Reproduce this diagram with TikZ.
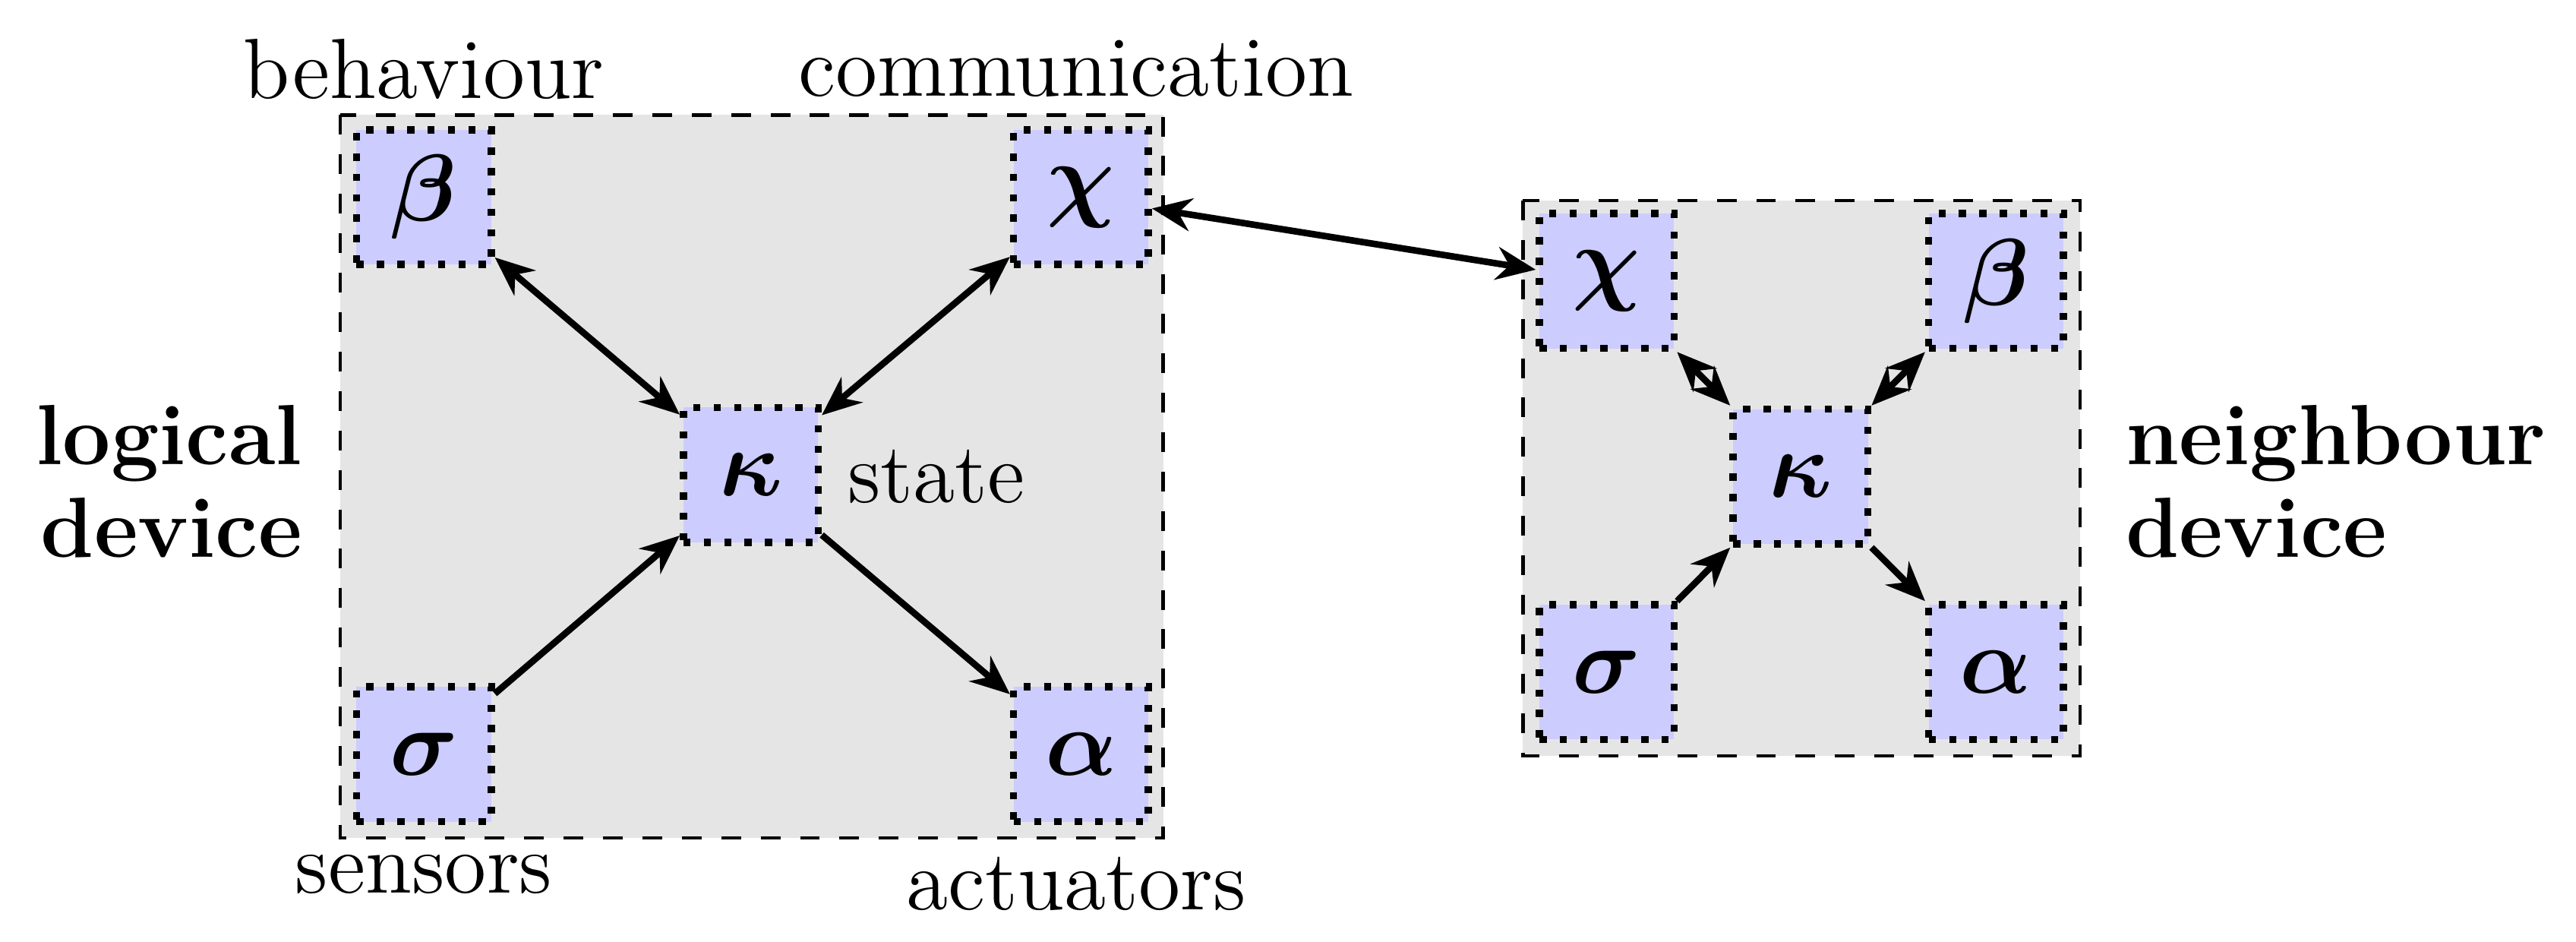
\documentclass[tikz,border=0pt]{standalone}
\usepackage{amsmath,bm}
\usetikzlibrary{arrows.meta}
\begin{document}
\begin{tikzpicture}[x=0.25pt,y=-0.25pt,
  dev/.style={draw,dashed,fill=gray!20,line width=0.5pt},
  comp/.style={draw,dotted,line width=1.1pt,fill=blue!20,minimum size=20.5pt,inner sep=0pt,font=\Large},
  lab/.style={font=\fontsize{13}{15}\selectfont},
  arr/.style={line width=1pt,-{Stealth[length=6pt,width=5pt]}},
  barr/.style={line width=1pt,{Stealth[length=6pt,width=5pt]}-{Stealth[length=6pt,width=5pt]}}]
\useasboundingbox (0,0) rectangle (1568,573);
\draw[dev] (207,70) rectangle (708,510);
\draw[dev] (927,122) rectangle (1266,460);
\node[comp] (b) at (258,120) {$\bm{\beta}$};
\node[comp] (c) at (658,120) {$\bm{\chi}$};
\node[comp] (k) at (457,289) {$\bm{\kappa}$};
\node[comp] (s) at (258,459) {$\bm{\sigma}$};
\node[comp] (a) at (658,459) {$\bm{\alpha}$};
\node[comp] (c2) at (978,171) {$\bm{\chi}$};
\node[comp] (b2) at (1215,171) {$\bm{\beta}$};
\node[comp] (k2) at (1096,290) {$\bm{\kappa}$};
\node[comp] (s2) at (978,409) {$\bm{\sigma}$};
\node[comp] (a2) at (1215,409) {$\bm{\alpha}$};
\draw[barr] (b) -- (k);
\draw[barr] (c) -- (k);
\draw[arr] (s) -- (k);
\draw[arr] (k) -- (a);
\draw[barr] (c) -- (c2);
\draw[barr] (c2) -- (k2);
\draw[barr] (b2) -- (k2);
\draw[arr] (s2) -- (k2);
\draw[arr] (k2) -- (a2);
\node[lab] (lb) at (258,42) {behaviour};
\node[lab] (lc) at (655,42) {communication};
\node[lab] (ls) at (570,290) {state};
\node[lab] (lse) at (258,532) {sensors};
\node[lab] (lac) at (655,538) {actuators};
\node[lab,font=\fontsize{13}{15}\selectfont\bfseries,align=right,anchor=east] (ll) at (198,293) {logical\\[-1pt]device};
\node[lab,font=\fontsize{13}{15}\selectfont\bfseries,align=left,anchor=west] (ln) at (1280,293) {neighbour\\[-1pt]device};
\end{tikzpicture}
\end{document}
